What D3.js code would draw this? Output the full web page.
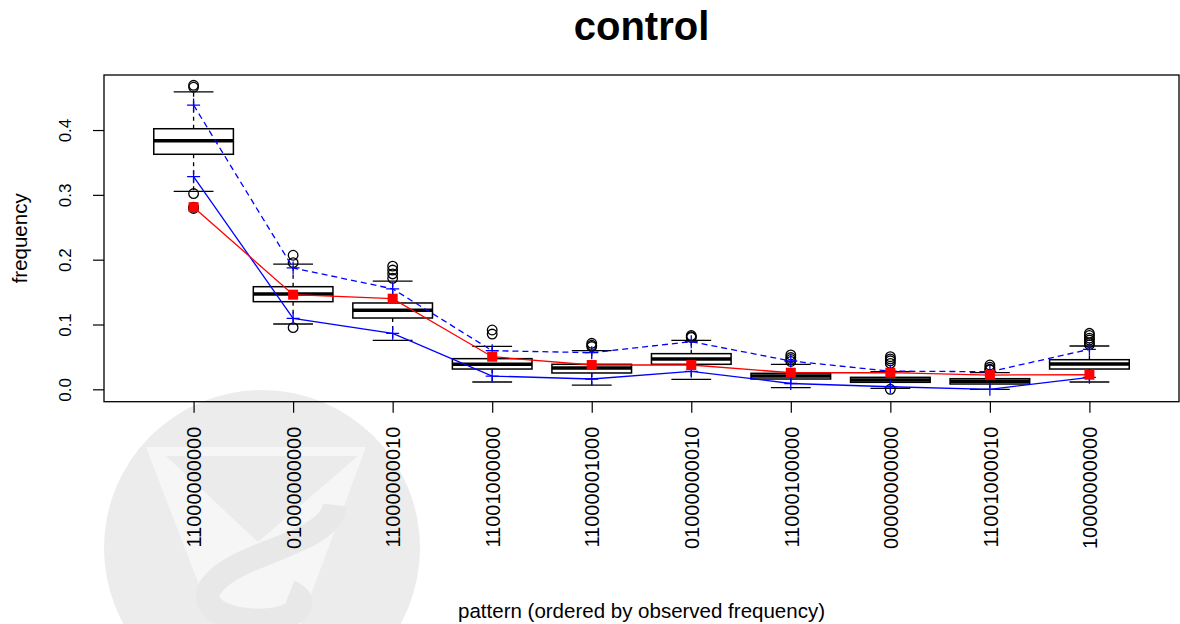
<!DOCTYPE html>
<html>
<head>
<meta charset="utf-8">
<script src="https://cdn.jsdelivr.net/npm/d3@7"></script>
<style>
  body { margin: 0; background: #fff; }
  svg { display: block; font-family: "Liberation Sans", Arial, sans-serif; }
</style>
</head>
<body>
<script>
// patterns, ordered by observed frequency
var patterns = ["11000000000", "01000000000", "11000000010", "11001000000", "11000001000",
                "01000000010", "11000100000", "00000000000", "11001000010", "10000000000"];

// simulated distribution per pattern (boxplot stats)
var whiskLow  = [0.3055, 0.1008, 0.0756, 0.0113, 0.0066, 0.0154, 0.0025, 0.0015, 0.0000, 0.0113];
var q1        = [0.3626, 0.1352, 0.1100, 0.0313, 0.0252, 0.0386, 0.0159, 0.0108, 0.0082, 0.0313];
var medians   = [0.3836, 0.1470, 0.1220, 0.0386, 0.0329, 0.0468, 0.0205, 0.0144, 0.0123, 0.0390];
var q3        = [0.4020, 0.1583, 0.1332, 0.0473, 0.0386, 0.0550, 0.0247, 0.0185, 0.0164, 0.0457];
var whiskHigh = [0.4590, 0.1930, 0.1670, 0.0663, 0.0596, 0.0756, 0.0386, 0.0272, 0.0256, 0.0668];
var outliers  = [
    [0.469, 0.466, 0.302, 0.281, 0.279],
    [0.2068, 0.1954, 0.0951],
    [0.190, 0.184, 0.178, 0.1713],
    [0.0915, 0.0853],
    [0.071, 0.068, 0.066],
    [0.083, 0.081, 0.080],
    [0.053, 0.049, 0.046, 0.043],
    [0.0503, 0.047, 0.044, 0.040, 0.0],
    [0.0375, 0.034, 0.031, 0.0298],
    [0.0864, 0.083, 0.079, 0.076, 0.072, 0.069]
];

// observed frequency and simulated bounds
var observed = [0.281, 0.146, 0.1398, 0.0503, 0.0375, 0.0375, 0.0256, 0.0256, 0.022, 0.0225];
var upperBnd = [0.4385, 0.1872, 0.155, 0.0596, 0.0565, 0.0735, 0.0437, 0.028, 0.0272, 0.0617];
var lowerBnd = [0.328, 0.1095, 0.0864, 0.0205, 0.0159, 0.0278, 0.009, 0.004, 0.0, 0.0185];

var yTicks = [0, 0.1, 0.2, 0.3, 0.4];

var w = 1180, h = 624;
var pL = 104, pR = 1179, pT = 75, pB = 401.7;

var svg = d3.select("body").append("svg").attr("width", w).attr("height", h);

// faint logo watermark in the background
var wm = svg.append("g");
wm.append("circle").attr("cx", 262).attr("cy", 548).attr("r", 158).attr("fill", "#ececec");
wm.append("path")
    .attr("d", "M146,447 L366,447 L300,624 L214,624 Z")
    .attr("fill", "#f6f6f6");
wm.append("path")
    .attr("d", "M166,456 L358,456 L258,542 Z")
    .attr("fill", "#ebebeb");
wm.append("path")
    .attr("d", "M335,505 C330,545 240,550 212,585 C195,608 230,624 270,620 C300,616 310,600 290,592")
    .attr("fill", "none").attr("stroke", "#e8e8e8").attr("stroke-width", 24);

var x = d3.scaleLinear().domain([0.1, 10.9]).range([pL, pR]);
var y = d3.scaleLinear().domain([-0.0191, 0.4849]).range([pB, pT]);

var idx = d3.range(patterns.length);
var boxW = x(1.4) - x(1);
var capW = x(1.2) - x(1);

// boxplots
var boxes = svg.append("g").selectAll("g").data(idx).enter().append("g");

boxes.append("line")
    .attr("x1", function (i) { return x(i + 1); }).attr("x2", function (i) { return x(i + 1); })
    .attr("y1", function (i) { return y(q3[i]); }).attr("y2", function (i) { return y(whiskHigh[i]); })
    .attr("stroke", "black").attr("stroke-width", 1.3).attr("stroke-dasharray", "4,4");
boxes.append("line")
    .attr("x1", function (i) { return x(i + 1); }).attr("x2", function (i) { return x(i + 1); })
    .attr("y1", function (i) { return y(q1[i]); }).attr("y2", function (i) { return y(whiskLow[i]); })
    .attr("stroke", "black").attr("stroke-width", 1.3).attr("stroke-dasharray", "4,4");
boxes.append("line")
    .attr("x1", function (i) { return x(i + 1) - capW; }).attr("x2", function (i) { return x(i + 1) + capW; })
    .attr("y1", function (i) { return y(whiskHigh[i]); }).attr("y2", function (i) { return y(whiskHigh[i]); })
    .attr("stroke", "black").attr("stroke-width", 1.3);
boxes.append("line")
    .attr("x1", function (i) { return x(i + 1) - capW; }).attr("x2", function (i) { return x(i + 1) + capW; })
    .attr("y1", function (i) { return y(whiskLow[i]); }).attr("y2", function (i) { return y(whiskLow[i]); })
    .attr("stroke", "black").attr("stroke-width", 1.3);
boxes.append("rect")
    .attr("x", function (i) { return x(i + 1) - boxW; })
    .attr("width", 2 * boxW)
    .attr("y", function (i) { return y(q3[i]); })
    .attr("height", function (i) { return y(q1[i]) - y(q3[i]); })
    .attr("fill", "white").attr("stroke", "black").attr("stroke-width", 1.5);
boxes.append("line")
    .attr("x1", function (i) { return x(i + 1) - boxW; }).attr("x2", function (i) { return x(i + 1) + boxW; })
    .attr("y1", function (i) { return y(medians[i]); }).attr("y2", function (i) { return y(medians[i]); })
    .attr("stroke", "black").attr("stroke-width", 3.5);
boxes.selectAll("circle")
    .data(function (i) { return outliers[i].map(function (v) { return [i, v]; }); })
    .enter().append("circle")
    .attr("cx", function (d) { return x(d[0] + 1); })
    .attr("cy", function (d) { return y(d[1]); })
    .attr("r", 4.8)
    .attr("fill", "none").attr("stroke", "black").attr("stroke-width", 1.3);

// lines
var lineOf = function (arr) {
    return d3.line().x(function (i) { return x(i + 1); }).y(function (i) { return y(arr[i]); })(idx);
};

function plusMarks(arr, color) {
    svg.append("g").selectAll("path").data(idx).enter().append("path")
        .attr("d", function (i) {
            var cx = x(i + 1), cy = y(arr[i]), s = 6.5;
            return "M" + (cx - s) + "," + cy + "H" + (cx + s) + "M" + cx + "," + (cy - s) + "V" + (cy + s);
        })
        .attr("stroke", color).attr("stroke-width", 1.3).attr("fill", "none");
}

svg.append("path").attr("d", lineOf(upperBnd)).attr("fill", "none")
    .attr("stroke", "blue").attr("stroke-width", 1.3).attr("stroke-dasharray", "6,4");
plusMarks(upperBnd, "blue");
svg.append("path").attr("d", lineOf(lowerBnd)).attr("fill", "none")
    .attr("stroke", "blue").attr("stroke-width", 1.3);
plusMarks(lowerBnd, "blue");

svg.append("path").attr("d", lineOf(observed)).attr("fill", "none")
    .attr("stroke", "red").attr("stroke-width", 1.3);
svg.append("g").selectAll("rect").data(idx).enter().append("rect")
    .attr("x", function (i) { return x(i + 1) - 5; })
    .attr("y", function (i) { return y(observed[i]) - 5; })
    .attr("width", 10).attr("height", 10)
    .attr("fill", "red");

// axes
var yAxis = d3.axisLeft(y).tickValues(yTicks).tickFormat(d3.format(".1f")).tickSize(11).tickSizeOuter(0);
var gy = svg.append("g").attr("transform", "translate(" + pL + ",0)").call(yAxis);
gy.select(".domain").remove();
gy.selectAll("line").attr("stroke", "black").attr("stroke-width", 1.2);
gy.selectAll("text")
    .attr("transform", "rotate(-90)")
    .attr("x", 0).attr("y", -33).attr("dy", 0)
    .attr("text-anchor", "middle")
    .attr("font-size", 17).attr("font-family", "Liberation Sans, Arial, sans-serif")
    .attr("fill", "black");

var xAxis = d3.axisBottom(x).tickValues(d3.range(1, 11))
    .tickFormat(function (d) { return patterns[d - 1]; }).tickSize(11).tickSizeOuter(0);
var gx = svg.append("g").attr("transform", "translate(0," + pB + ")").call(xAxis);
gx.select(".domain").remove();
gx.selectAll("line").attr("stroke", "black").attr("stroke-width", 1.2);
gx.selectAll("text")
    .attr("transform", "rotate(-90)")
    .attr("x", -25).attr("y", 0).attr("dy", "0.36em")
    .attr("text-anchor", "end")
    .attr("font-size", 20).attr("font-family", "Liberation Sans, Arial, sans-serif")
    .attr("fill", "black");

// frame
svg.append("rect").attr("x", pL).attr("y", pT)
    .attr("width", pR - pL).attr("height", pB - pT)
    .attr("fill", "none").attr("stroke", "black").attr("stroke-width", 1.3);

// titles
svg.append("text").attr("x", (pL + pR) / 2).attr("y", 40)
    .attr("text-anchor", "middle").attr("font-size", 40).attr("font-weight", "bold")
    .text("control");
svg.append("text").attr("x", (pL + pR) / 2).attr("y", 618)
    .attr("text-anchor", "middle").attr("font-size", 20.5)
    .text("pattern (ordered by observed frequency)");
svg.append("text")
    .attr("transform", "translate(27," + ((pT + pB) / 2) + ") rotate(-90)")
    .attr("text-anchor", "middle").attr("font-size", 20.5)
    .text("frequency");
</script>
</body>
</html>
